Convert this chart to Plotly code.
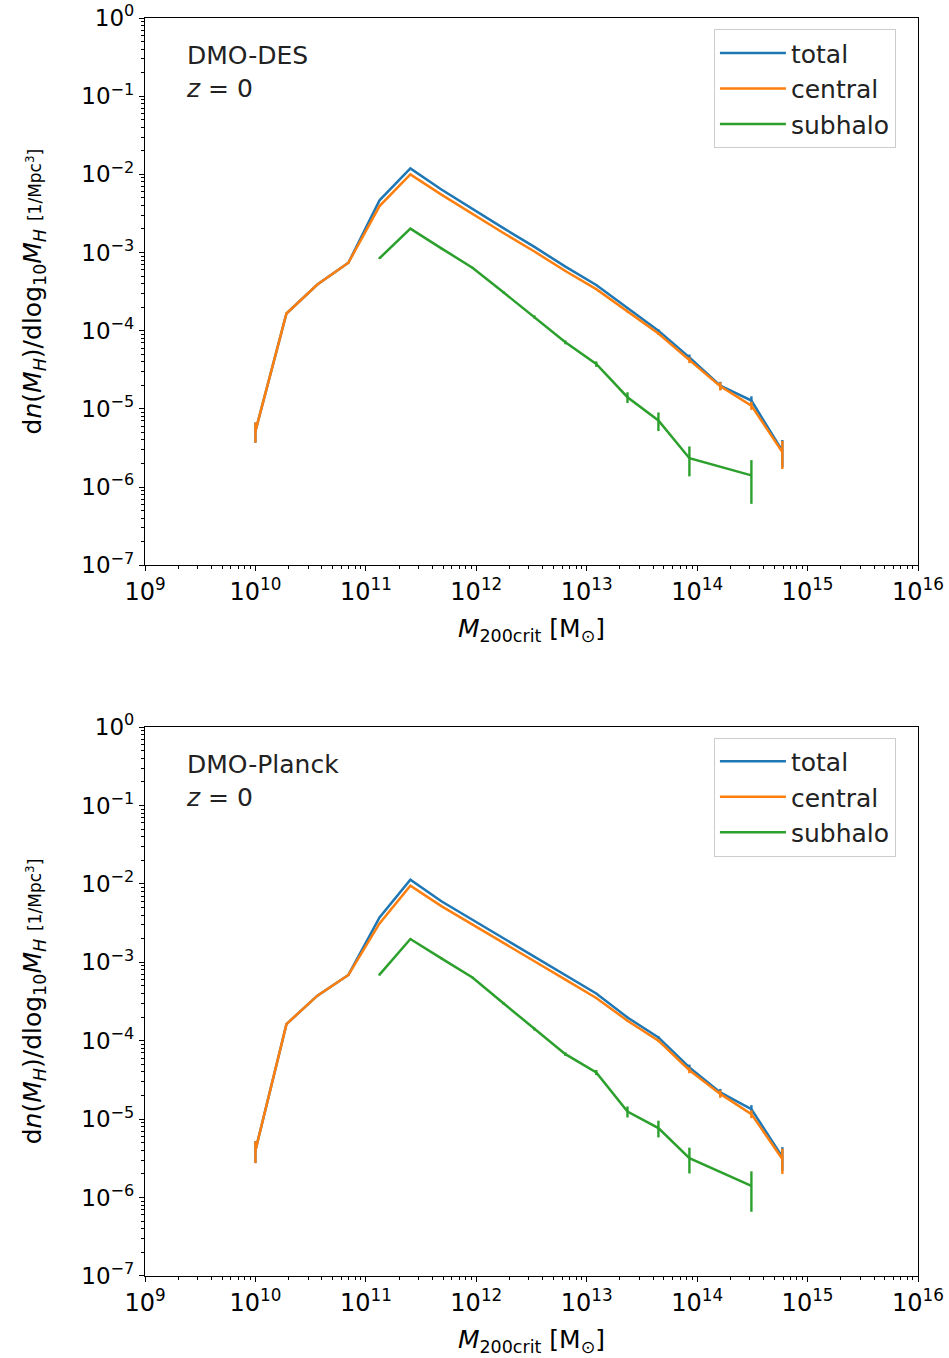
import plotly.graph_objects as go

# halo mass bin centres [Msun]
mass = [1.00e10, 1.91e10, 3.64e10, 6.95e10, 1.33e11, 2.53e11, 4.83e11, 9.23e11, 1.76e12,
        3.36e12, 6.41e12, 1.22e13, 2.34e13, 4.46e13, 8.51e13, 1.62e14, 3.10e14, 5.91e14]
mass_sub = [1.33e11, 2.53e11, 4.83e11, 9.23e11, 1.76e12, 3.36e12, 6.41e12, 1.22e13,
            2.34e13, 4.46e13, 8.51e13, 3.10e14]

# DMO-DES
des_total = [5.2e-6, 1.66e-4, 3.9e-4, 7.4e-4, 4.65e-3, 1.19e-2, 6.4e-3, 3.6e-3, 2.05e-3,
             1.18e-3, 6.6e-4, 3.85e-4, 1.93e-4, 1.0e-4, 4.56e-5, 1.98e-5, 1.28e-5, 2.9e-6]
des_total_err = [1.5e-6, 3e-6, 6e-6, 1e-5, 4e-5, 8e-5, 5e-5, 3e-5, 2e-5,
                 1.4e-5, 1e-5, 7e-6, 4.5e-6, 4e-6, 4e-6, 2.4e-6, 1.7e-6, 1.1e-6]
des_central = [5.2e-6, 1.66e-4, 3.9e-4, 7.4e-4, 3.93e-3, 9.97e-3, 5.5e-3, 3.1e-3, 1.78e-3,
               1.03e-3, 5.8e-4, 3.4e-4, 1.75e-4, 9.2e-5, 4.2e-5, 1.95e-5, 1.1e-5, 2.8e-6]
des_central_err = [1.5e-6, 3e-6, 6e-6, 1e-5, 4e-5, 7e-5, 5e-5, 3e-5, 2e-5,
                   1.3e-5, 9e-6, 7e-6, 4.5e-6, 4e-6, 3.5e-6, 2.3e-6, 1.3e-6, 1.1e-6]
des_sub = [8.45e-4, 2.02e-3, 1.13e-3, 6.4e-4, 3.1e-4, 1.5e-4, 7.1e-5, 3.75e-5,
           1.41e-5, 7.1e-6, 2.34e-6, 1.41e-6]
des_sub_err = [2e-5, 3e-5, 2.5e-5, 1.7e-5, 1e-5, 7e-6, 4e-6, 3e-6,
               2.2e-6, 1.9e-6, 9.7e-7, 8e-7]

# DMO-Planck
pl_total = [4.0e-6, 1.63e-4, 3.75e-4, 6.9e-4, 3.74e-3, 1.13e-2, 6.0e-3, 3.5e-3, 2.0e-3,
            1.17e-3, 6.8e-4, 4.0e-4, 1.98e-4, 1.1e-4, 4.56e-5, 2.19e-5, 1.34e-5, 3.3e-6]
pl_total_err = [1.25e-6, 3e-6, 6e-6, 1e-5, 4e-5, 8e-5, 5e-5, 3e-5, 2e-5,
                1.4e-5, 1e-5, 7e-6, 4.5e-6, 4e-6, 4e-6, 2.4e-6, 1.7e-6, 1.1e-6]
pl_central = [4.0e-6, 1.63e-4, 3.75e-4, 6.9e-4, 3.13e-3, 9.5e-3, 5.2e-3, 3.05e-3, 1.75e-3,
              1.03e-3, 6.0e-4, 3.5e-4, 1.8e-4, 1.0e-4, 4.2e-5, 2.1e-5, 1.16e-5, 3.1e-6]
pl_central_err = [1.25e-6, 3e-6, 6e-6, 1e-5, 4e-5, 7e-5, 5e-5, 3e-5, 2e-5,
                  1.3e-5, 9e-6, 7e-6, 4.5e-6, 4e-6, 3.5e-6, 2.3e-6, 1.3e-6, 1.1e-6]
pl_sub = [6.95e-4, 1.98e-3, 1.12e-3, 6.4e-4, 3.0e-4, 1.41e-4, 6.75e-5, 3.94e-5,
          1.25e-5, 7.7e-6, 3.18e-6, 1.41e-6]
pl_sub_err = [2e-5, 3e-5, 2.5e-5, 1.7e-5, 1e-5, 6e-6, 3.5e-6, 3e-6,
              2e-6, 1.85e-6, 1.15e-6, 7.5e-7]

series_names = ["total", "central", "subhalo"]
colors = ["#1f77b4", "#ff7f0e", "#2ca02c"]

x_major = [1e9, 1e10, 1e11, 1e12, 1e13, 1e14, 1e15, 1e16]
x_labels = ["10<sup>9</sup>", "10<sup>10</sup>", "10<sup>11</sup>", "10<sup>12</sup>",
            "10<sup>13</sup>", "10<sup>14</sup>", "10<sup>15</sup>", "10<sup>16</sup>"]
y_major = [1e-7, 1e-6, 1e-5, 1e-4, 1e-3, 1e-2, 1e-1, 1e0]
y_labels = ["10<sup>\u22127</sup>", "10<sup>\u22126</sup>", "10<sup>\u22125</sup>",
            "10<sup>\u22124</sup>", "10<sup>\u22123</sup>", "10<sup>\u22122</sup>",
            "10<sup>\u22121</sup>", "10<sup>0</sup>"]

FONT = "DejaVu Sans"
panels = [
    dict(label="DMO-DES", data=[(mass, des_total, des_total_err), (mass, des_central, des_central_err),
                                (mass_sub, des_sub, des_sub_err)], legend="legend"),
    dict(label="DMO-Planck", data=[(mass, pl_total, pl_total_err), (mass, pl_central, pl_central_err),
                                   (mass_sub, pl_sub, pl_sub_err)], legend="legend2"),
]

fig = go.Figure()
axis_ids = [("x", "y"), ("x2", "y2")]
for p, (xa, ya) in zip(panels, axis_ids):
    for (xs, ys, es), name, c in zip(p["data"], series_names, colors):
        fig.add_trace(go.Scatter(
            x=xs, y=ys, mode="lines", name=name, xaxis=xa, yaxis=ya,
            line=dict(color=c, width=2.5),
            error_y=dict(type="data", array=es, symmetric=True, color=c, thickness=2.4, width=0),
            legend=p["legend"], showlegend=True,
        ))

x_minor = [m * 10 ** k for k in range(9, 16) for m in range(2, 10)]
y_minor = [m * 10.0 ** k for k in range(-7, 0) for m in range(2, 10)]

xaxis_common = dict(
    type="log", range=[9, 16], tickmode="array", tickvals=x_major, ticktext=x_labels,
    ticks="outside", ticklen=5, tickwidth=1.2, tickcolor="black", automargin=False,
    ticklabeloverflow="allow",
    showline=True, linecolor="black", linewidth=1.2, mirror=True, showgrid=False, zeroline=False,
    tickfont=dict(family=FONT, size=24, color="black"),
    minor=dict(tickvals=x_minor, ticks="outside", ticklen=3, tickwidth=1, tickcolor="black", showgrid=False),
    title=dict(text="<i>M</i><sub>200crit</sub> [M<sub>\u2299</sub>]",
               font=dict(family=FONT, size=25, color="black"), standoff=14),
)
yaxis_common = dict(
    type="log", range=[-7, 0], tickmode="array", tickvals=y_major, ticktext=y_labels,
    ticks="outside", ticklen=5, tickwidth=1.2, tickcolor="black", automargin=False,
    ticklabeloverflow="allow",
    showline=True, linecolor="black", linewidth=1.2, mirror=True, showgrid=False, zeroline=False,
    tickfont=dict(family=FONT, size=23, color="black"),
    minor=dict(tickvals=y_minor, ticks="outside", ticklen=3, tickwidth=1, tickcolor="black", showgrid=False),
    title=dict(text="d<i>n</i>(<i>M<sub>H</sub></i>)/dlog<sub>10</sub><i>M<sub>H</sub></i> "
                    "<span style='font-size:17px'>[1/Mpc<sup>3</sup>]</span>",
               font=dict(family=FONT, size=25, color="black"), standoff=32),
)

fig.update_layout(
    width=949, height=1358,
    margin=dict(l=145, r=31, t=18, b=82),
    paper_bgcolor="white", plot_bgcolor="white",
    font=dict(family=FONT, color="black"),
    xaxis=dict(domain=[0, 1], anchor="y", **xaxis_common),
    yaxis=dict(domain=[0.5650, 1.0], anchor="x", **yaxis_common),
    xaxis2=dict(domain=[0, 1], anchor="y2", **xaxis_common),
    yaxis2=dict(domain=[0.0, 0.4364], anchor="x2", **yaxis_common),
    legend=dict(x=0.736, y=0.991, xanchor="left", yanchor="top", bgcolor="rgba(255,255,255,0.8)",
                bordercolor="#cccccc", borderwidth=1, font=dict(family=FONT, size=25, color="#222"),
                itemwidth=66, tracegroupgap=0),
    legend2=dict(x=0.736, y=0.428, xanchor="left", yanchor="top", bgcolor="rgba(255,255,255,0.8)",
                 bordercolor="#cccccc", borderwidth=1, font=dict(family=FONT, size=25, color="#222"),
                 itemwidth=66, tracegroupgap=0),
    annotations=[
        dict(text=p["label"] + "<br><i>z</i> = 0", xref=xa + " domain", yref=ya + " domain",
             x=0.05, y=0.962, xanchor="left", yanchor="top", align="left", showarrow=False,
             font=dict(family=FONT, size=25, color="#222"))
        for p, (xa, ya) in zip(panels, axis_ids)
    ],
)

fig.write_html("out.html")
